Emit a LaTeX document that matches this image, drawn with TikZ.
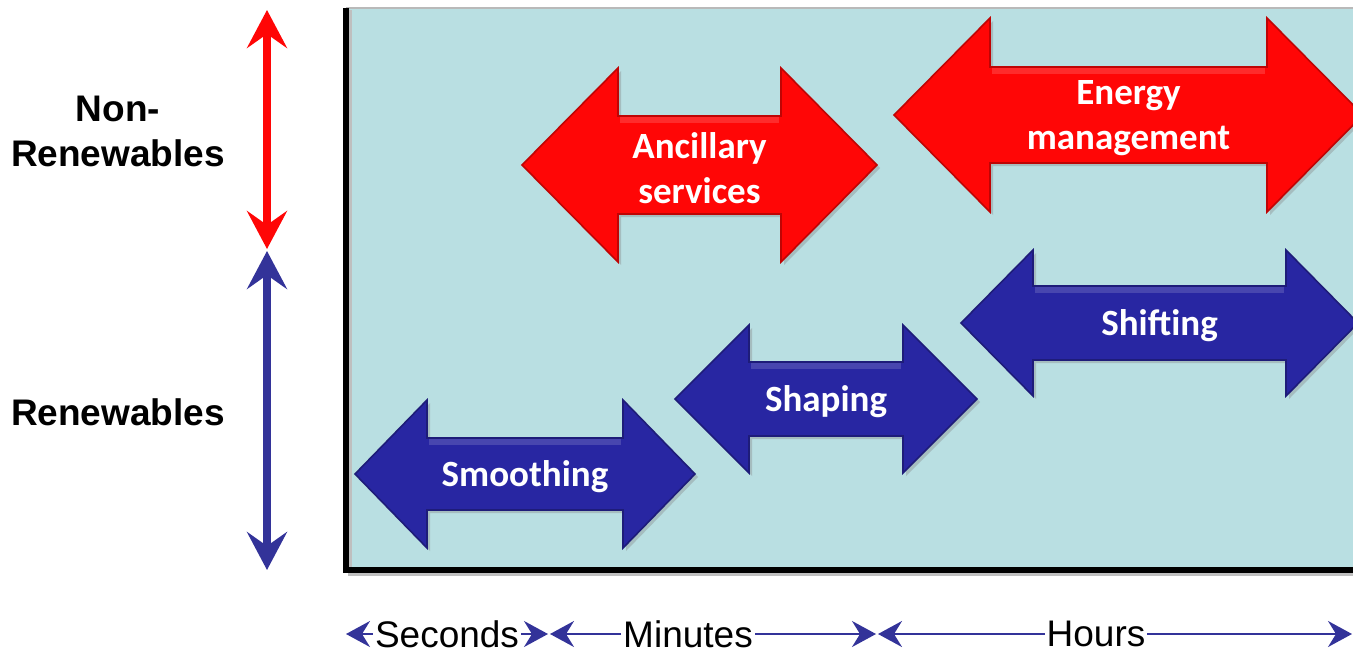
\documentclass[tikz,border=0pt]{standalone}
\usepackage{fontspec}
\setmainfont{Liberation Sans}
\newfontfamily\calibrifont{Carlito}
\usetikzlibrary{arrows.meta,shadows}

\definecolor{panelcyan}{RGB}{185,223,226}
\definecolor{nonrenred}{RGB}{255,6,6}
\definecolor{renblue}{RGB}{40,38,162}
\definecolor{axisblue}{RGB}{51,51,153}

\tikzset{
  side label/.style={font=\bfseries\fontsize{18.5}{22.5}\selectfont, align=center},
  time label/.style={font=\fontsize{18.5}{22}\selectfont, fill=white, inner xsep=1pt, inner ysep=0pt},
  arrow label/.style={font=\calibrifont\bfseries\fontsize{18.5}{22.5}\selectfont, text=white, align=center},
  timeline/.style={axisblue, line width=1pt,
    {Stealth[length=12pt,width=13pt,inset=4pt]}-{Stealth[length=12pt,width=13pt,inset=4pt]}},
  catspan/.style={line width=4pt,
    {Stealth[length=19pt,width=20pt,inset=7pt]}-{Stealth[length=19pt,width=20pt,inset=7pt]}},
}

% name, left tip, right tip, mid y, head, half height, half body, colour, text
\newcommand{\bigarrow}[9]{%
  \fill[#8, draw=#8!75!black, line width=0.8pt,
        drop shadow={opacity=0.35, shadow xshift=1.5pt, shadow yshift=-1.5pt}]
    (#2,#4) -- (#2+#5,#4-#6) -- (#2+#5,#4-#7) -- (#3-#5,#4-#7)
    -- (#3-#5,#4-#6) -- (#3,#4) -- (#3-#5,#4+#6) -- (#3-#5,#4+#7)
    -- (#2+#5,#4+#7) -- (#2+#5,#4+#6) -- cycle;
  \draw[white, opacity=0.15, line width=3pt] (#2+#5+2,#4-#7+4) -- (#3-#5-2,#4-#7+4);
  \node[arrow label] (#1) at ({(#2+#3)/2},#4+3) {#9};
}

\begin{document}
\begin{tikzpicture}[x=0.5pt, y=-0.5pt]
  \useasboundingbox (0,0) rectangle (1353,653);

  % panel
  \fill[panelcyan] (346,8) rectangle (1370,570);
  \draw[gray!55, line width=0.6pt] (346,8) -- (1370,8);
  \draw[black!25, line width=2pt] (350,10) -- (350,574) -- (1370,574);
  \draw[line width=2.6pt] (346,8) -- (346,570) -- (1370,570);

  % categories
  \coordinate (nrtop) at (267,10);
  \coordinate (nrbot) at (267,249);
  \coordinate (rtop) at (267,251);
  \coordinate (rbot) at (267,570);
  \draw[catspan, nonrenred] (nrtop) -- (nrbot);
  \draw[catspan, axisblue] (rtop) -- (rbot);
  \node[side label] (nonren) at (118,131) {Non-\\Renewables};
  \node[side label] (ren) at (118,412) {Renewables};

  % services
  \bigarrow{smooth}{355}{695}{474}{72}{74}{36}{renblue}{Smoothing}
  \bigarrow{shape}{675}{977}{399}{74}{74}{37}{renblue}{Shaping}
  \bigarrow{shift}{961}{1358}{323}{72}{73}{37}{renblue}{Shifting}
  \bigarrow{ancil}{522}{877}{165}{96}{97}{49}{nonrenred}{Ancillary\\services}
  \bigarrow{energy}{894}{1363}{115}{96}{97}{48}{nonrenred}{Energy\\management}

  % time scale
  \coordinate (t0) at (346,634);
  \coordinate (t1) at (548,634);
  \coordinate (t2) at (550,634);
  \coordinate (t3) at (876,634);
  \coordinate (t4) at (878,634);
  \coordinate (t5) at (1352,634);
  \draw[timeline] (t0) -- (t1);
  \draw[timeline] (t2) -- (t3);
  \draw[timeline] (t4) -- (t5);
  \node[time label] (sec) at (447,634) {Seconds};
  \node[time label] (min) at (688,634) {Minutes};
  \node[time label] (hrs) at (1096,634) {Hours};
\end{tikzpicture}
\end{document}
